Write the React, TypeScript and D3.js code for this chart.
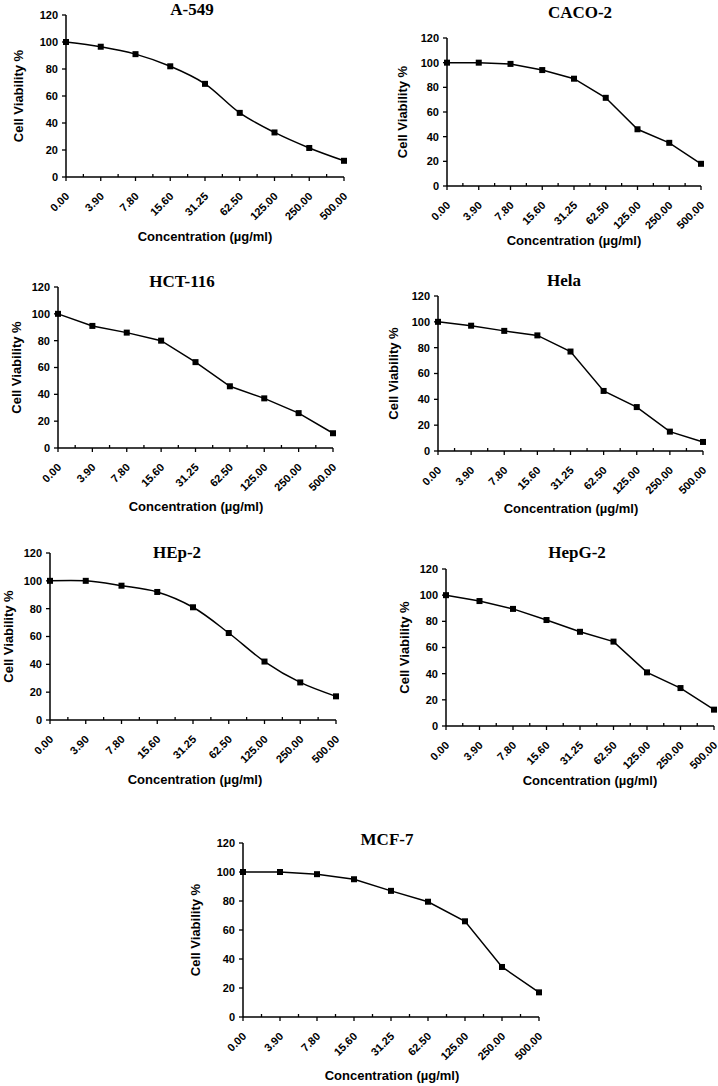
import React from "react";
import * as d3 from "d3";

const categories = ["0.00", "3.90", "7.80", "15.60", "31.25", "62.50", "125.00", "250.00", "500.00"];
const yTicks = [0, 20, 40, 60, 80, 100, 120];

const a549 = [100, 96.5, 91, 82, 69, 47.5, 33, 21.5, 12];
const caco2 = [100, 100, 99, 94, 87, 71.5, 46, 35, 18];
const hct116 = [100, 91, 86, 80, 64, 46, 37, 26, 11];
const hela = [100, 97, 93, 89.5, 77, 46.5, 34, 15, 7];
const hep2 = [100, 100, 96.5, 92, 81, 62.5, 42, 27, 17];
const hepg2 = [100, 95.5, 89.5, 81, 72, 64.5, 41, 29, 12.5];
const mcf7 = [100, 100, 98.5, 95, 87, 79.5, 66, 34.5, 17];

const cellLines = ["A-549", "CACO-2", "HCT-116", "Hela", "HEp-2", "HepG-2", "MCF-7"];
const seriesList = [a549, caco2, hct116, hela, hep2, hepg2, mcf7];
const smoothFlags = [true, false, false, false, true, false, false];

const yLabel = "Cell Viability %";
const xLabel = "Concentration (µg/ml)";

// layout of each panel (pixels)
const layouts = [
  { x0: 66, x1: 344, yTop: 15, yBot: 177, titleX: 192, titleY: 15, ylabX: 23, xtX: 205, xtY: 241 },
  { x0: 447, x1: 701, yTop: 38, yBot: 186, titleX: 580, titleY: 18, ylabX: 407, xtX: 574, xtY: 245 },
  { x0: 58, x1: 333, yTop: 287, yBot: 448, titleX: 182, titleY: 287, ylabX: 21, xtX: 196, xtY: 511 },
  { x0: 438, x1: 703, yTop: 296, yBot: 451, titleX: 564, titleY: 286, ylabX: 398, xtX: 571, xtY: 513 },
  { x0: 50, x1: 336, yTop: 553, yBot: 720, titleX: 177, titleY: 558, ylabX: 13, xtX: 195, xtY: 784 },
  { x0: 446, x1: 714, yTop: 569, yBot: 726, titleX: 577, titleY: 558, ylabX: 409, xtX: 590, xtY: 785 },
  { x0: 243, x1: 539, yTop: 843, yBot: 1017, titleX: 387, titleY: 845, ylabX: 200, xtX: 392, xtY: 1080 },
];

const SANS = "'Liberation Sans', Arial, sans-serif";
const SERIF = "'Liberation Serif', 'Times New Roman', serif";

function Panel({ idx }: { idx: number }) {
  const L = layouts[idx];
  const values = seriesList[idx];
  const x = d3.scalePoint<string>().domain(categories).range([L.x0, L.x1]);
  const y = d3.scaleLinear().domain([0, 120]).range([L.yBot, L.yTop]);
  const step = x.step();
  const line = d3
    .line<number>()
    .x((_, i) => x(categories[i]) as number)
    .y((d) => y(d))
    .curve(smoothFlags[idx] ? d3.curveCatmullRom.alpha(0.5) : d3.curveLinear);
  const ms = 6;
  return (
    <g>
      <text x={L.titleX} y={L.titleY} textAnchor="middle" fontFamily={SERIF} fontWeight="bold" fontSize={17}>
        {cellLines[idx]}
      </text>
      {/* y axis */}
      <line x1={L.x0} x2={L.x0} y1={L.yTop} y2={L.yBot} stroke="#000" strokeWidth={1.5} />
      {yTicks.map((t) => (
        <g key={"y" + t}>
          <line x1={L.x0 - 4} x2={L.x0} y1={y(t)} y2={y(t)} stroke="#000" strokeWidth={1.3} />
          <text x={L.x0 - 8} y={y(t)} dy="0.35em" textAnchor="end" fontFamily={SANS} fontWeight="bold" fontSize={11}>
            {t}
          </text>
        </g>
      ))}
      {/* x axis */}
      <line x1={L.x0} x2={L.x1} y1={L.yBot} y2={L.yBot} stroke="#000" strokeWidth={1.5} />
      {categories.map((c, i) => {
        const cx = x(c) as number;
        return (
          <g key={"x" + c}>
            <line x1={cx} x2={cx} y1={L.yBot} y2={L.yBot + 4} stroke="#000" strokeWidth={1.3} />
            {i < categories.length - 1 && (
              <line x1={cx + step / 2} x2={cx + step / 2} y1={L.yBot - 3} y2={L.yBot} stroke="#000" strokeWidth={1.3} />
            )}
            <text
              transform={`translate(${cx + 4},${L.yBot + 20}) rotate(-45)`}
              textAnchor="end"
              fontFamily={SANS}
              fontWeight="bold"
              fontSize={11}
            >
              {c}
            </text>
          </g>
        );
      })}
      <text
        transform={`translate(${L.ylabX},${(L.yTop + L.yBot) / 2}) rotate(-90)`}
        textAnchor="middle"
        fontFamily={SANS}
        fontWeight="bold"
        fontSize={13}
      >
        {yLabel}
      </text>
      <text x={L.xtX} y={L.xtY} textAnchor="middle" fontFamily={SANS} fontWeight="bold" fontSize={13}>
        {xLabel}
      </text>
      <path d={line(values) || ""} fill="none" stroke="#000" strokeWidth={1.5} />
      {values.map((v, i) => (
        <rect
          key={"m" + i}
          x={(x(categories[i]) as number) - ms / 2}
          y={y(v) - ms / 2}
          width={ms}
          height={ms}
          fill="#000"
        />
      ))}
    </g>
  );
}

export default function App() {
  return (
    <svg
      width={718}
      height={1086}
      style={{ position: "absolute", left: 0, top: 0, background: "#fff" }}
    >
      <rect width={718} height={1086} fill="#fff" />
      {layouts.map((_, i) => (
        <Panel key={i} idx={i} />
      ))}
    </svg>
  );
}
